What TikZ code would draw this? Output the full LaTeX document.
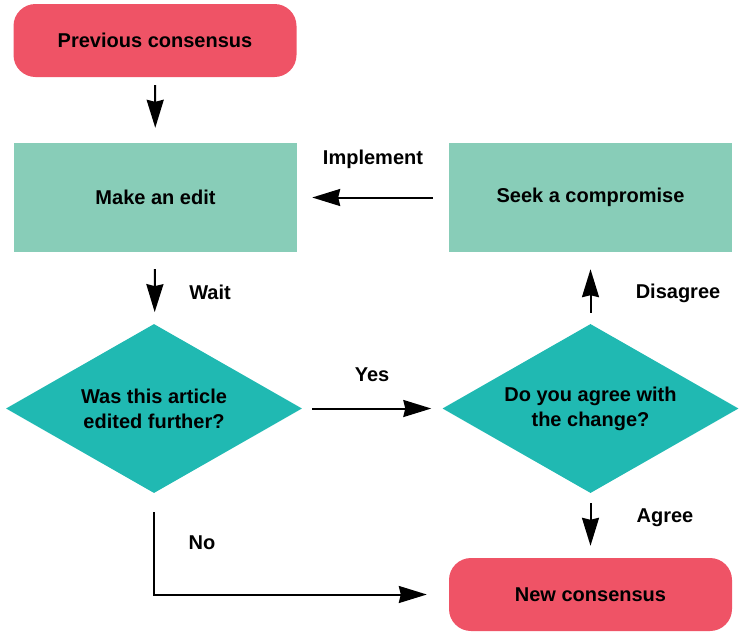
\documentclass[tikz,border=0pt]{standalone}
\usepackage{fontspec}
\setsansfont{Liberation Sans}
\usetikzlibrary{arrows.meta,shapes.geometric}
\definecolor{consred}{RGB}{239,83,102}
\definecolor{steppale}{RGB}{136,205,184}
\definecolor{askteal}{RGB}{32,185,178}
\tikzset{every node/.style={font=\sffamily\bfseries\fontsize{20}{25}\selectfont},line cap=round,line join=round}
\tikzset{
  consbox/.style={fill=consred,rounded corners=22pt,minimum width=283pt,minimum height=73pt,inner sep=0pt},
  stepbox/.style={fill=steppale,minimum width=283pt,minimum height=109pt,inner sep=0pt},
  askbox/.style={diamond,aspect=1.75,fill=askteal,minimum width=296pt,minimum height=169pt,inner sep=0pt,align=center},
  arr/.style={line width=2pt,-{Stealth[length=28pt,width=17pt,inset=2pt]}},
}

\begin{document}
\begin{tikzpicture}[x=1pt,y=-1pt]
  \path[use as bounding box] (0,0) rectangle (739,633);
  \node[consbox] (prev) at (155,40.5) {Previous consensus};
  \node[stepbox] (edit) at (155.5,197.5) {Make an edit};
  \node[stepbox] (comp) at (590.5,197.5) {Seek a compromise};
  \node[askbox] (further) at (154,408.5) {Was this article\\edited further?};
  \node[askbox] (agree) at (590.5,408.5) {Do you agree with\\the change?};
  \node[consbox] (new) at (590.5,594.5) {New consensus};

  \draw[arr,shorten <=8pt,shorten >=15pt] (prev) -- (edit);
  \draw[arr,shorten <=17pt,shorten >=12pt] (edit) -- (further);
  \draw[arr,shorten <=10pt,shorten >=11pt] (further) -- (agree);
  \draw[arr,shorten <=11pt,shorten >=17pt] (agree) -- (comp);
  \draw[arr,shorten <=16pt,shorten >=15pt] (comp) -- (edit);
  \draw[arr,shorten <=10pt,shorten >=12pt] (agree) -- (new);
  \draw[arr,shorten <=19pt,shorten >=22pt] (further.south) |- (new.west);

  \node (implement) at (373,159) {Implement};
  \node (wait) at (210,292) {Wait};
  \node (yes) at (372,375) {Yes};
  \node (disagree) at (678,293) {Disagree};
  \node (agreed) at (665,518) {Agree};
  \node (no) at (202,543) {No};
\end{tikzpicture}
\end{document}
